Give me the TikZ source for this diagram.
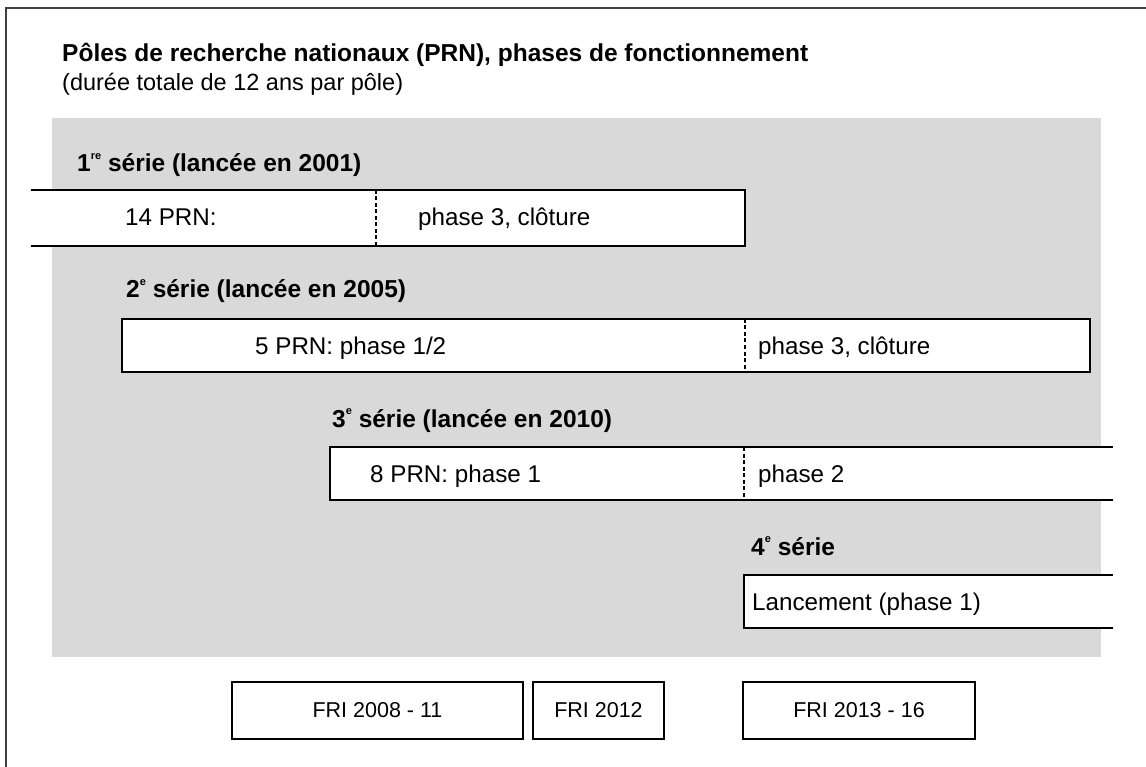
\documentclass[tikz,border=0pt]{standalone}
\usepackage{fontspec}
\setmainfont{Liberation Sans}
\newcommand\mysup[1]{\raisebox{0.5em}{\fontsize{11}{11}\selectfont #1}}
\begin{document}
\begin{tikzpicture}[x=1pt,y=-1pt,
  barline/.style={line width=1.8pt,black},
  divider/.style={line width=1.6pt,dash pattern=on 4pt off 2.5pt},
  lbl/.style={anchor=base west,inner sep=0pt,font=\fontsize{24.2}{28}\selectfont},
  sublbl/.style={anchor=base west,inner sep=0pt,font=\fontsize{23.5}{28}\selectfont},
  hdr/.style={anchor=base west,inner sep=0pt,font=\fontsize{24.5}{28}\selectfont\bfseries},
  fribox/.style={draw,line width=2pt,minimum height=57pt,inner sep=0pt,font=\fontsize{21.5}{25}\selectfont}]
\useasboundingbox (0,0) rectangle (1146,767);
\fill[white] (0,0) rectangle (1146,767);
\draw[line width=2pt,black!75] (6,767) -- (6,8) -- (1146,8);
\fill[black!15] (52,118) rectangle (1101,657);

\node[hdr] (title) at (62,62) {Pôles de recherche nationaux (PRN), phases de fonctionnement};
\node[sublbl] (subtitle) at (62,91) {(durée totale de 12 ans par pôle)};

% series 1
\node[hdr] (s1) at (77,172) {1\mysup{re} série (lancée en 2001)};
\fill[white] (31,190) rectangle (745,246);
\draw[barline] (31,190) -- (745,190) -- (745,246) -- (31,246);
\coordinate (d1a) at (376,190); \coordinate (d1b) at (376,246);
\draw[divider] (d1a) -- (d1b);
\node[lbl] (b1a) at (125,226) {14 PRN:};
\node[lbl] (b1b) at (418,226) {phase 3, clôture};

% series 2
\node[hdr] (s2) at (126,298) {2\mysup{e} série (lancée en 2005)};
\fill[white] (122,319) rectangle (1090,372);
\draw[barline] (122,319) rectangle (1090,372);
\coordinate (d2a) at (745,319); \coordinate (d2b) at (745,372);
\draw[divider] (d2a) -- (d2b);
\node[lbl] (b2a) at (255,354) {5 PRN: phase 1/2};
\node[lbl] (b2b) at (758,354) {phase 3, clôture};

% series 3
\node[hdr] (s3) at (332,427) {3\mysup{e} série (lancée en 2010)};
\fill[white] (330,447) rectangle (1113,500);
\draw[barline] (1113,447) -- (330,447) -- (330,500) -- (1113,500);
\coordinate (d3a) at (744,447); \coordinate (d3b) at (744,500);
\draw[divider] (d3a) -- (d3b);
\node[lbl] (b3a) at (370,482) {8 PRN: phase 1};
\node[lbl] (b3b) at (758,482) {phase 2};

% series 4
\node[hdr] (s4) at (751,555) {4\mysup{e} série};
\fill[white] (744,575) rectangle (1113,628);
\draw[barline] (1113,575) -- (744,575) -- (744,628) -- (1113,628);
\node[lbl] (b4a) at (752,610) {Lancement (phase 1)};

% FRI boxes
\node[fribox,minimum width=291pt] (f1) at (377.5,710.5) {FRI 2008 - 11};
\node[fribox,minimum width=131pt] (f2) at (598.5,710.5) {FRI 2012};
\node[fribox,minimum width=232pt] (f3) at (859,710.5) {FRI 2013 - 16};
\end{tikzpicture}
\end{document}
